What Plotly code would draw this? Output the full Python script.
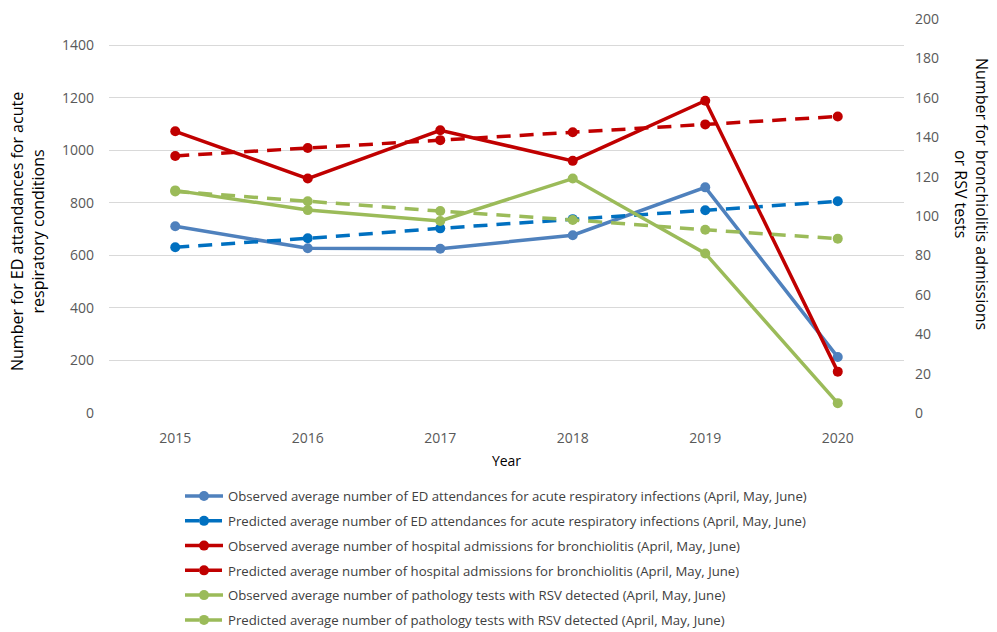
import plotly.graph_objects as go

years = ["2015", "2016", "2017", "2018", "2019", "2020"]

ed_observed = [711, 627, 625, 677, 859, 213]
ed_predicted = [631, 665, 703, 738, 772, 806]
bronch_observed = [143, 119, 143.5, 128, 158.5, 21]
bronch_predicted = [130.5, 134.5, 138.5, 142.5, 146.5, 150.5]
rsv_observed = [113, 103, 97.5, 119, 81, 5]
rsv_predicted = [112.5, 107.5, 102.5, 98, 93, 88.5]

names = [
    "Observed average number of ED attendances for acute respiratory infections (April, May, June)",
    "Predicted average number of ED attendances for acute respiratory infections (April, May, June)",
    "Observed average number of hospital admissions for bronchiolitis (April, May, June)",
    "Predicted average number of hospital admissions for bronchiolitis (April, May, June)",
    "Observed average number of pathology tests with RSV detected (April, May, June)",
    "Predicted average number of pathology tests with RSV detected (April, May, June)",
]

BLUE_OBS = "#4F81BD"
BLUE_PRED = "#0070C0"
RED = "#C00000"
GREEN = "#9BBB59"

series = [
    (ed_observed, names[0], BLUE_OBS, "solid", "y"),
    (ed_predicted, names[1], BLUE_PRED, "14px,9px", "y"),
    (bronch_observed, names[2], RED, "solid", "y2"),
    (bronch_predicted, names[3], RED, "14px,9px", "y2"),
    (rsv_observed, names[4], GREEN, "solid", "y2"),
    (rsv_predicted, names[5], GREEN, "14px,9px", "y2"),
]

fig = go.Figure()
for i, (vals, name, color, dash, axis) in enumerate(series):
    fig.add_trace(go.Scatter(
        x=years, y=vals, name=name, yaxis=axis, mode="lines+markers",
        line=dict(color=color, width=3.5, dash=dash),
        marker=dict(color=color, size=10, symbol="circle"),
        legendgroup=f"g{i}",
    ))

W, H = 997, 632
L, T, R, B = 109, 19, 904, 413
PW, PH = R - L, B - T

FONT = "Open Sans"
fig.update_layout(
    width=W, height=H,
    margin=dict(l=L, r=W - R, t=T, b=H - B, autoexpand=False),
    plot_bgcolor="white", paper_bgcolor="white",
    font=dict(family=FONT, color="#595959", size=14),
    showlegend=True,
    legend=dict(
        orientation="v", xref="container", x=180 / W, xanchor="left",
        yref="container", y=1 - 481 / H, yanchor="top",
        font=dict(family=FONT, size=13.2, color="#404040"),
        traceorder="grouped", tracegroupgap=4.6, itemwidth=38,
        bgcolor="rgba(0,0,0,0)",
    ),
    xaxis=dict(
        type="category", range=[-0.5, 5.5], showgrid=False, zeroline=False,
        ticks="", showline=False, tickfont=dict(size=14, color="#595959"),
        ticklabelstandoff=15,
        title=dict(text="Year", font=dict(size=14, color="black"), standoff=10),
    ),
    yaxis=dict(
        range=[0, 1500], dtick=200, showgrid=True, gridcolor="#D9D9D9",
        gridwidth=1, zeroline=False, showline=False, ticks="",
        tickfont=dict(size=14, color="#595959"), ticklabelstandoff=14,
    ),
    yaxis2=dict(
        range=[0, 200], dtick=20, overlaying="y", side="right",
        showgrid=False, zeroline=False, showline=False, ticks="",
        tickfont=dict(size=14, color="#595959"), ticklabelstandoff=10,
    ),
    annotations=[
        dict(text="Number for ED attandances for acute<br>respiratory conditions",
             xref="paper", yref="paper", x=(27 - L) / PW, y=(B - 232) / PH,
             xanchor="center", yanchor="middle", showarrow=False, textangle=-90,
             font=dict(family=FONT, size=16, color="black")),
        dict(text="Number for bronchiolitis admissions<br>or RSV tests",
             xref="paper", yref="paper", x=(972 - L) / PW, y=(B - 194) / PH,
             xanchor="center", yanchor="middle", showarrow=False, textangle=90,
             font=dict(family=FONT, size=16, color="black")),
    ],
)

fig.write_html(
    "out.html",
    config={"displayModeBar": False},
    post_script="document.body.style.margin='0';document.body.style.overflow='hidden';",
)
